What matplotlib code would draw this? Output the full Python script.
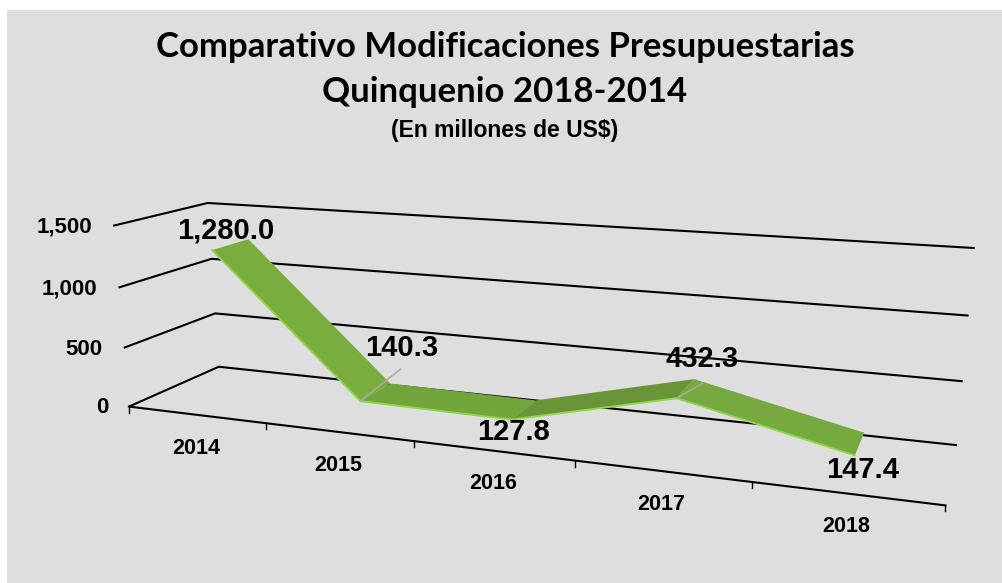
import numpy as np
import matplotlib
matplotlib.use("Agg")
import matplotlib.pyplot as plt
from matplotlib.patches import Polygon, Rectangle

years = ["2014", "2015", "2016", "2017", "2018"]
amounts = [1280.0, 140.3, 127.8, 432.3, 147.4]
amount_labels = ["1,280.0", "140.3", "127.8", "432.3", "147.4"]
value_ticks = [0, 500, 1000, 1500]
value_tick_labels = ["0", "500", "1,000", "1,500"]

TITLE_FONT = ["Lato", "Liberation Sans", "DejaVu Sans"]
LABEL_FONT = ["Liberation Sans", "DejaVu Sans"]
BG = "#dedede"
DEPTH_FRONT = 0.29
DEPTH_BACK = 0.70

# calibration of the 3D box: (category, depth, value) -> pixel in the picture
anchors = [
    ((0, 0, 0), (130, 406)), ((0, 1, 0), (218, 367)),
    ((0, 0, 500), (123, 348)), ((0, 1, 500), (215, 313)),
    ((0, 0, 1000), (118, 287)), ((0, 1, 1000), (212, 259)),
    ((0, 0, 1500), (113, 226)), ((0, 1, 1500), (208, 203)),
    ((5, 1, 0), (957, 445)), ((5, 1, 500), (963, 381)),
    ((5, 1, 1000), (968, 316)), ((5, 1, 1500), (975, 248)),
    ((1, 0, 0), (266, 423)), ((2, 0, 0), (414, 443)),
    ((3, 0, 0), (575, 460)), ((4, 0, 0), (751, 482)), ((5, 0, 0), (946, 505)),
]


def fit_camera(points):
    rows = []
    for (u, d, v), (px, py) in points:
        p = [u, d, v / 1500.0, 1]
        rows.append(p + [0, 0, 0, 0] + [-px * c for c in p])
        rows.append([0, 0, 0, 0] + p + [-py * c for c in p])
    _, _, vt = np.linalg.svd(np.array(rows, dtype=float))
    return vt[-1].reshape(3, 4)


CAMERA = fit_camera(anchors)


def project(u, d, v):
    x, y, w = CAMERA @ np.array([u, d, v / 1500.0, 1.0])
    return x / w, y / w


fig = plt.figure(figsize=(10.02, 5.83), dpi=100)
ax = fig.add_axes([0, 0, 1, 1])
ax.set_xlim(0, 1002)
ax.set_ylim(583, 0)
ax.axis("off")
ax.add_patch(Rectangle((7, 10), 995, 573, facecolor=BG, edgecolor="none", zorder=0))

# walls / gridlines
for v, lab in zip(value_ticks, value_tick_labels):
    pts = [project(0, 0, v), project(0, 1, v), project(5, 1, v)]
    ax.plot(*zip(*pts), color="black", lw=1.5, zorder=1, solid_capstyle="butt")
    x0, y0 = project(0, 0, v)
    ax.annotate(lab, (x0, y0), xytext=(-15, -1), textcoords="offset points", ha="right",
                va="center", fontsize=16, fontweight="bold", family=LABEL_FONT, zorder=5)

# category axis
ax.plot(*zip(project(0, 0, 0), project(5, 0, 0)), color="black", lw=1.5, zorder=1)
for i in range(len(years) + 1):
    x0, y0 = project(i, 0, 0)
    ax.plot([x0, x0], [y0, y0 + 6], color="black", lw=1, zorder=1)
for i, yr in enumerate(years):
    x0, y0 = project(i + 0.5, 0, 0)
    ax.annotate(yr, (x0, y0), xytext=(0, -24), textcoords="offset points", ha="center",
                va="center", fontsize=15.5, fontweight="bold", family=LABEL_FONT, zorder=5)

# ribbon
seg_colors = ["#79ae3f", "#72a53b", "#6a9438", "#76a93f"]
for i in range(len(amounts) - 1):
    a, b = amounts[i], amounts[i + 1]
    quad = [project(i + 0.5, DEPTH_FRONT, a), project(i + 0.5, DEPTH_BACK, a),
            project(i + 1.5, DEPTH_BACK, b), project(i + 1.5, DEPTH_FRONT, b)]
    ax.add_patch(Polygon(quad, closed=True, facecolor=seg_colors[i], edgecolor="none", zorder=2))
    ax.plot(*zip(quad[0], quad[3]), color="#8fd64a", lw=1.4, zorder=3, solid_capstyle="round")

# leader lines
for i, off in ((1, (40, -32)), (3, (26, -15))):
    x0, y0 = project(i + 0.5, DEPTH_FRONT, amounts[i])
    ax.plot([x0, x0 + off[0]], [y0, y0 + off[1]], color="#a9a9a9", lw=1.1, zorder=4)

# data labels, offset from their points in px
label_offsets = [(14, -20), (41, -53), (2, 12), (25, -39), (8, 15)]
for i, lab in enumerate(amount_labels):
    x0, y0 = project(i + 0.5, DEPTH_FRONT, amounts[i])
    ax.annotate(lab, (x0, y0), xytext=(label_offsets[i][0] * 0.72, -label_offsets[i][1] * 0.72),
                textcoords="offset points", ha="center", va="center", fontsize=21,
                fontweight="bold", family=LABEL_FONT, zorder=6)

ax.text(505, 47, "Comparativo Modificaciones Presupuestarias", ha="center", va="center",
        fontsize=25, fontweight="bold", family=TITLE_FONT)
ax.text(505, 92, "Quinquenio 2018-2014", ha="center", va="center",
        fontsize=25, fontweight="bold", family=TITLE_FONT)
ax.text(505, 131, "(En millones de US$)", ha="center", va="center",
        fontsize=16.5, fontweight="bold", family=LABEL_FONT)

fig.savefig("out.png", dpi=100)
